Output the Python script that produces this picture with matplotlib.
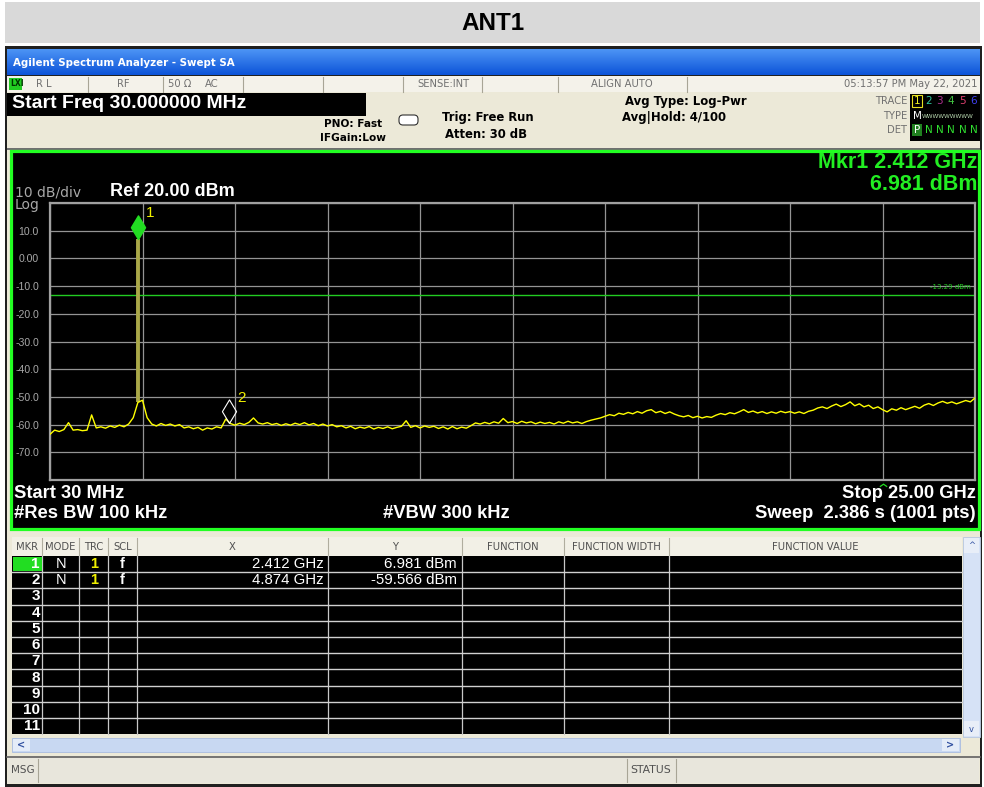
import numpy as np
import matplotlib
matplotlib.use('agg')
from matplotlib import pyplot as plt
from matplotlib.patches import Rectangle, FancyBboxPatch
from matplotlib.path import Path

plt.rcParams['font.family'] = ['Liberation Sans', 'DejaVu Sans']

title = 'ANT1'
start_ghz = 0.03
stop_ghz = 25.0
ref_level = 20.0
db_per_div = 10
display_line = -13.29

# swept trace, dBm, evenly spaced from start to stop
trace_db = [
    -63.5, -62.0, -62.5, -61.8, -59.3, -62.0, -61.8, -62.2, -62.0, -56.5,
    -61.2, -60.8, -61.3, -60.5, -61.0, -60.2, -60.8, -59.8, -57.5, -52.0,
    -51.2, -57.5, -59.8, -60.5, -59.6, -60.3, -59.8, -60.5, -60.0, -61.2,
    -60.8, -61.5, -61.0, -62.0, -61.2, -61.6, -60.8, -61.2, -58.0, -59.6,
    -60.2, -59.5, -60.0, -59.2, -57.6, -59.4, -59.8, -59.3, -60.0, -59.6,
    -60.3, -59.7, -60.2, -59.5, -60.0, -59.3, -60.1, -59.6, -60.4, -59.8,
    -60.5, -60.0, -60.8, -60.4, -61.2, -60.6, -61.5, -60.9, -61.3, -60.7,
    -61.6, -61.0, -61.4, -60.8, -61.5, -61.0, -60.6, -58.6, -61.0, -60.4,
    -61.2, -60.5, -61.0, -60.6, -61.4, -60.8, -61.6, -60.7, -61.5, -60.9,
    -61.3, -60.4, -59.4, -59.8, -59.2, -59.7, -59.0, -59.5, -57.8, -59.3,
    -58.9, -59.6, -58.8, -59.4, -59.0, -59.7, -59.1, -59.6, -59.2, -59.8,
    -59.0, -59.5, -58.8, -59.4, -59.0, -59.6, -58.9, -58.4, -58.0, -57.6,
    -57.0, -56.4, -56.8, -55.9, -56.3, -55.6, -56.1, -55.3, -55.9, -55.0,
    -54.6, -55.7, -55.2, -56.0, -55.4, -56.2, -56.8, -57.2, -56.7, -57.5,
    -57.0, -57.6, -57.1, -57.4, -56.6, -56.0, -56.4, -55.7, -56.1, -55.4,
    -54.6, -55.6, -55.1, -55.8, -55.3, -56.0, -55.4, -55.9, -55.2, -55.7,
    -55.3, -55.9, -55.4, -56.0, -55.2, -54.8, -54.0, -53.6, -54.2, -53.3,
    -52.6, -53.5, -52.8, -51.8, -53.2, -52.5, -53.6, -53.0, -54.2, -53.6,
    -54.6, -55.4, -54.3, -54.8, -53.9, -54.6, -54.0, -53.4, -54.1, -53.0,
    -52.4, -53.1, -52.2, -51.6, -52.3, -51.8, -52.5, -51.9, -51.3, -51.8,
    -50.4,
]

mkr_num = ['1', '2']
mkr_mode = ['N', 'N']
mkr_trc = ['1', '1']
mkr_scl = ['f', 'f']
mkr_freq = [2.412, 4.874]
mkr_level = [6.981, -59.566]

table_cols = ['MKR', 'MODE', 'TRC', 'SCL', 'X', 'Y',
              'FUNCTION', 'FUNCTION WIDTH', 'FUNCTION VALUE']
n_rows = 11

W, H = 984, 787
BEIGE = '#ece9d8'
GREEN = '#22ee22'

fig = plt.figure(figsize=(W / 100, H / 100), dpi=100)
fig.patch.set_facecolor('white')
ui = fig.add_axes([0, 0, 1, 1])
ui.axis('off')


def box(x0, y0, x1, y1, fc, ec='none', lw=0.0, z=1):
    ui.add_patch(Rectangle((x0, y0), x1 - x0, y1 - y0, fc=fc, ec=ec, lw=lw, zorder=z))


def txt(x, y, s, size=8, color='black', ha='left', weight='normal', family=None, z=5):
    kw = {}
    if family:
        kw['family'] = family
    ui.text(x, y, s, fontsize=size, color=color, ha=ha, va='center',
            fontweight=weight, zorder=z, **kw)


# title band
box(5, 2, 980, 43, '#d9d9d9')
txt(493, 23, title, size=17.5, weight='bold', ha='center')

# window frame
box(5, 46, 982, 787, '#202020')
box(7, 76, 980, 784, BEIGE)

# blue caption bar
grad = np.linspace(0, 1, 26)[:, None]
top, bot = np.array([0.30, 0.58, 0.96]), np.array([0.05, 0.33, 0.85])
img = (top[None, None, :] * (1 - grad[..., None]) + bot[None, None, :] * grad[..., None])
ui.imshow(img, extent=[7, 980, 75, 49], aspect='auto', zorder=2)
txt(13, 63, 'Agilent Spectrum Analyzer - Swept SA', size=7.4, color='white',
    weight='bold', family='DejaVu Sans', z=3)

# status row
box(7, 76, 980, 92, '#f4f2ea', z=2)
for sx in [88, 163, 243, 323, 403, 482, 558, 687]:
    ui.plot([sx, sx], [77, 92], color='#a8a596', lw=0.8, zorder=3)
box(9, 78, 22, 90, '#22cc22', z=3)
txt(10, 84, 'LXI', size=5.5, color='#003300', weight='bold', family='DejaVu Sans')
grey_small = dict(size=7.2, color='#707070', family='DejaVu Sans')
txt(36, 84, 'R L', **grey_small)
txt(117, 84, 'RF', **grey_small)
txt(168, 84, '50 Ω', **grey_small)
txt(205, 84, 'AC', **grey_small)
txt(417, 84, 'SENSE:INT', **grey_small)
txt(591, 84, 'ALIGN AUTO', **grey_small)
txt(978, 84, '05:13:57 PM May 22, 2021', ha='right', **grey_small)

# settings panel
box(7, 93, 366, 116, 'black', z=2)
txt(12, 104, 'Start Freq 30.000000 MHz', size=14, color='white', weight='bold')
bold_small = dict(size=8.4, weight='bold', family='DejaVu Sans')
txt(353, 124, 'PNO: Fast', ha='center', size=7.6, weight='bold', family='DejaVu Sans')
txt(353, 138, 'IFGain:Low', ha='center', size=7.6, weight='bold', family='DejaVu Sans')
ui.add_patch(FancyBboxPatch((400, 116), 17, 8, boxstyle='round,pad=1,rounding_size=4',
                            fc='white', ec='#303030', lw=0.8, zorder=3))
txt(442, 118, 'Trig: Free Run', **bold_small)
txt(445, 134, 'Atten: 30 dB', **bold_small)
txt(625, 102, 'Avg Type: Log-Pwr', **bold_small)
txt(622, 118, 'Avg|Hold: 4/100', **bold_small)

box(910, 94, 980, 141, 'black', z=2)
txt(907, 101, 'TRACE', ha='right', **grey_small)
txt(907, 116, 'TYPE', ha='right', **grey_small)
txt(907, 130, 'DET', ha='right', **grey_small)
box(912, 95, 922, 107, 'none', ec='#e8e020', lw=0.8, z=3)
trace_colors = ['#f0f020', '#30c8a0', '#b03090', '#40c040', '#e04070', '#4040f0']
for k, c in enumerate(trace_colors):
    txt(917 + 11.4 * k, 101, str(k + 1), size=7.5, color=c, ha='center', family='DejaVu Sans')
txt(917, 116, 'M', size=7.5, color='white', ha='center', family='DejaVu Sans')
txt(948, 116, 'WWWWWWWWW', size=4.2, color='#b8d8b0', ha='center', family='DejaVu Sans')
box(912, 124, 922, 136, '#208020', z=3)
txt(917, 130, 'P', size=7.5, color='white', ha='center', family='DejaVu Sans')
for k in range(5):
    txt(928.4 + 11.4 * k, 130, 'N', size=7.5, color='#30e030', ha='center', family='DejaVu Sans')

# instrument screen
box(7, 148, 980, 150, '#707070', z=2)
box(11, 151, 979, 529, 'black', ec='#22ff22', lw=2.3, z=2)

txt(15, 192, '10 dB/div', size=10, color='#a8a8a8', family='DejaVu Sans', z=6)
txt(15, 205, 'Log', size=10, color='#a8a8a8', family='DejaVu Sans', z=6)
txt(110, 192, 'Ref 20.00 dBm', size=13, color='white', weight='bold', z=6)
txt(977, 163, 'Mkr1 2.412 GHz', size=15.5, color=GREEN, weight='bold', ha='right', z=6)
txt(977, 185, '6.981 dBm', size=15.5, color=GREEN, weight='bold', ha='right', z=6)
big = dict(size=13.2, color='white', weight='bold', z=6)
txt(14, 493, 'Start 30 MHz', **big)
txt(14, 514, '#Res BW 100 kHz', **big)
txt(383, 514, '#VBW 300 kHz', **big)
txt(976, 493, 'Stop 25.00 GHz', ha='right', **big)
txt(976, 514, 'Sweep  2.386 s (1001 pts)', ha='right', **big)

# spectrum graticule
sp = fig.add_axes([50 / W, 1 - 480 / H, 925 / W, 277 / H])
sp.set_facecolor('black')
bottom_level = ref_level - 10 * db_per_div
sp.set_xlim(start_ghz, stop_ghz)
sp.set_ylim(bottom_level, ref_level)
x_grid = np.linspace(start_ghz, stop_ghz, 11)
sp.set_xticks(x_grid)
levels = np.arange(bottom_level, ref_level + 1, db_per_div)
sp.set_yticks(levels)
sp.set_yticklabels(['' if v in (bottom_level, ref_level) else ('0.00' if v == 0 else f'{v:.1f}')
                    for v in levels])
sp.tick_params(axis='y', length=0, pad=8, labelsize=7.6, labelcolor='#a8a8a8')
sp.tick_params(axis='x', length=0, labelbottom=False)
sp.grid(True, color='#949494', lw=0.9)
sp.set_axisbelow(True)
for s in sp.spines.values():
    s.set_color('#a0a0a0')
    s.set_linewidth(1.6)

freq = np.linspace(start_ghz, stop_ghz, len(trace_db))
sp.axhline(display_line, color='#22cc22', lw=1.0, zorder=2)
sp.annotate(f'{display_line:.2f} dBm', (0.995, display_line), xycoords=('axes fraction', 'data'),
            xytext=(0, 4), textcoords='offset points', ha='right', va='bottom',
            fontsize=5, color='#22cc22', family='DejaVu Sans')

# carrier spike at marker 1
base = trace_db[int(np.argmin(np.abs(freq - mkr_freq[0])))]
sp.vlines(mkr_freq[0], base, mkr_level[0], color='#aaa848', lw=2.8, zorder=3)
sp.plot(freq, trace_db, color='#ffff00', lw=1.0, zorder=4)

diamond = Path([(0, 0), (0.6, 1), (0, 2), (-0.6, 1), (0, 0)],
               [Path.MOVETO, Path.LINETO, Path.LINETO, Path.LINETO, Path.CLOSEPOLY])
sp.plot(mkr_freq[0], mkr_level[0], marker=diamond, ms=34, color='#22dd22',
        mec='#22dd22', clip_on=False, zorder=6)
sp.plot(mkr_freq[1], mkr_level[1], marker=diamond, ms=34, mfc='none',
        mec='white', mew=0.8, clip_on=False, zorder=6)
for n, f, lvl in zip(mkr_num, mkr_freq, mkr_level):
    sp.annotate(n, (f, lvl), xytext=(8.5, 18.5), textcoords='offset points', ha='center',
                va='center', fontsize=11, color='#f0f000', annotation_clip=False, zorder=7)

# small green caret under the ninth division
caret = Path([(-1, -1.7), (0, -1), (1, -1.7)], [Path.MOVETO, Path.LINETO, Path.LINETO])
sp.plot(x_grid[9], bottom_level, marker=caret, ms=9, mfc='none', mec='#22dd22',
        mew=0.9, clip_on=False, zorder=6)

# marker table
col_x = [12, 42, 79, 108, 137, 328, 462, 564, 669, 962]
row_top = 556
row_h = 16.2
table_bot = row_top + n_rows * row_h
box(12, 537, 962, 556, '#f2f0e6', z=2)
box(12, row_top, 962, table_bot, 'black', z=2)
for k, name in enumerate(table_cols):
    cx = (col_x[k] + col_x[k + 1]) / 2
    txt(cx, 547, name, size=7.2, color='#505050', ha='center', family='DejaVu Sans', z=4)
for cx in col_x[1:-1]:
    ui.plot([cx, cx], [538, 555], color='#b0ad9e', lw=0.8, zorder=3)
    ui.plot([cx, cx], [row_top, table_bot], color='#c8c8c8', lw=0.9, zorder=3)
for r in range(1, n_rows):
    y = row_top + r * row_h
    ui.plot([12, 962], [y, y], color='#d0d0d0', lw=1.0, zorder=3)
box(13, row_top + 1, 42, row_top + row_h - 1, '#22dd22', z=3)
for r in range(n_rows):
    y = row_top + (r + 0.5) * row_h
    txt(40, y, str(r + 1), size=11, color='white', ha='right', weight='bold', z=4)
for r in range(len(mkr_num)):
    y = row_top + (r + 0.5) * row_h
    txt(61, y, mkr_mode[r], size=10.5, color='white', ha='center', z=4)
    txt(94, y, mkr_trc[r], size=10.5, color='#f0f000', ha='center', weight='bold', z=4)
    txt(122, y, mkr_scl[r], size=10.5, color='white', ha='center', weight='bold', z=4)
    txt(324, y, f'{mkr_freq[r]:.3f} GHz', size=10.8, color='white', ha='right', z=4)
    txt(457, y, f'{mkr_level[r]:.3f} dBm', size=10.8, color='white', ha='right', z=4)

# scroll bars
box(963, 537, 980, 737, '#d6e2f6', ec='#b8c8e0', lw=0.6, z=2)
box(964, 538, 979, 553, '#e8eef8', z=3)
box(964, 721, 979, 736, '#e8eef8', z=3)
txt(971.5, 545, '^', size=6, color='#3050a0', ha='center', family='DejaVu Sans')
txt(971.5, 729, 'v', size=6, color='#3050a0', ha='center', family='DejaVu Sans')
box(12, 738, 960, 752, '#c8d8f2', ec='#a8bce0', lw=0.6, z=2)
box(13, 739, 30, 751, '#e4ecf8', z=3)
box(942, 739, 959, 751, '#e4ecf8', z=3)
txt(21, 745, '<', size=7, color='#3050a0', ha='center', weight='bold', family='DejaVu Sans')
txt(950, 745, '>', size=7, color='#3050a0', ha='center', weight='bold', family='DejaVu Sans')

# message bar
ui.plot([7, 980], [757, 757], color='#606060', lw=1.2, zorder=3)
box(8, 758, 979, 783, '#e8e6dc', z=2)
for sx in [38, 627, 676]:
    ui.plot([sx, sx], [759, 782], color='#a8a596', lw=0.8, zorder=3)
txt(11, 770, 'MSG', size=7.5, color='#505050', family='DejaVu Sans')
txt(651, 770, 'STATUS', size=7.8, color='#505050', ha='center', family='DejaVu Sans')

ui.set_xlim(0, W)
ui.set_ylim(H, 0)

fig.savefig('out.png', dpi=100)
